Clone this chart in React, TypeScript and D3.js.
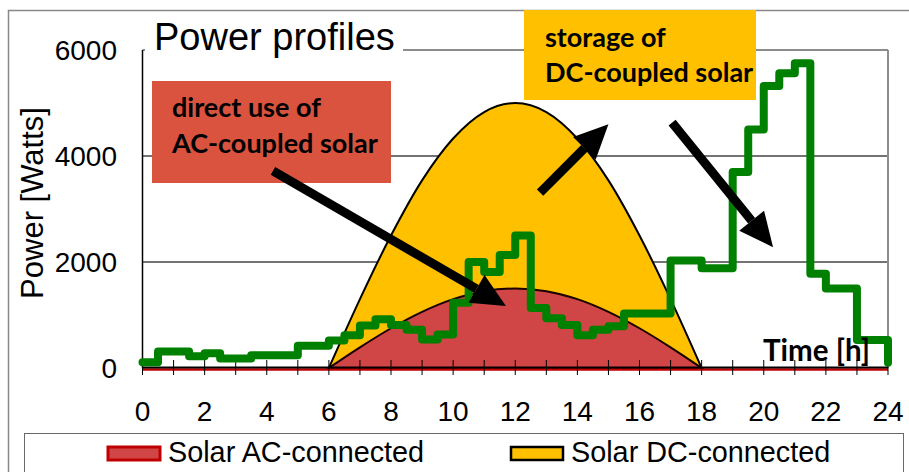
import * as d3 from "d3";

// time axis of the load profile: every half hour, value holds until the next step
const loadTimes = d3.range(0, 24.5, 0.5);
const loadWatts = [
  110, 310, 310, 220, 280, 180, 180, 240, 240, 240, 420, 420, 520, 620, 800, 920,
  810, 720, 540, 630, 1230, 2000, 1810, 2130, 2500, 1130, 940, 810, 620, 720, 790,
  1030, 1030, 1030, 2030, 2030, 1880, 1880, 3700, 4500, 5320, 5560, 5750, 1780,
  1500, 1500, 530, 530, 100,
];

// solar production, hourly readings between sunrise and sunset
const solarHours = [6, 7, 8, 9, 10, 11, 12, 13, 14, 15, 16, 17, 18];
const solarDC = [0, 1300, 2500, 3540, 4330, 4830, 5000, 4830, 4330, 3540, 2500, 1300, 0];
const solarAC = [0, 390, 750, 1060, 1300, 1450, 1500, 1450, 1300, 1060, 750, 390, 0];

const xTickLabels = [0, 2, 4, 6, 8, 10, 12, 14, 16, 18, 20, 22, 24];
const yTickLabels = [0, 2000, 4000, 6000];
const gridValues = [2000, 4000];

// arrows in data units: [t0, w0, t1, w1]
const arrows = [
  [4.2, 3720, 11.7, 1170],
  [12.8, 3310, 15.0, 4600],
  [17.05, 4630, 20.3, 2280],
];

const W = 909;
const H = 472;
const AXIS = "Liberation Sans, Arial, sans-serif";
const NOTE = "Lato, sans-serif";

function Arrow({ x1, y1, x2, y2 }: { x1: number; y1: number; x2: number; y2: number }) {
  const ang = Math.atan2(y2 - y1, x2 - x1);
  const headLen = 34;
  const headW = 16;
  const bx = x2 - headLen * Math.cos(ang);
  const by = y2 - headLen * Math.sin(ang);
  const px = -Math.sin(ang) * headW;
  const py = Math.cos(ang) * headW;
  return (
    <g>
      <line x1={x1} y1={y1} x2={bx} y2={by} stroke="#000" strokeWidth={9} />
      <polygon
        points={`${x2},${y2} ${bx + px},${by + py} ${bx - px},${by - py}`}
        fill="#000"
      />
    </g>
  );
}

export default function App() {
  const x = d3.scaleLinear().domain([0, 24]).range([142.5, 888]);
  const y = d3.scaleLinear().domain([0, 6000]).range([368, 50]);

  const area = d3
    .area<number>()
    .x((_, i) => x(solarHours[i]))
    .y0(y(0))
    .y1((d) => y(d))
    .curve(d3.curveMonotoneX);

  const load = d3
    .line<number>()
    .x((_, i) => x(loadTimes[i]))
    .y((d) => y(d))
    .curve(d3.curveStepAfter);

  const hours = d3.range(0, 25);

  return (
    <svg
      width={W}
      height={H}
      style={{ position: "absolute", left: 0, top: 0, background: "#fff" }}
    >
      <rect x={0} y={0} width={W} height={H} fill="#fff" />
      {/* chart frame */}
      <rect x={8.5} y={10.5} width={940} height={520} fill="none" stroke="#888" strokeWidth={1.5} />

      {/* grid */}
      {gridValues.map((v) => (
        <line key={v} x1={x(0)} x2={x(24)} y1={y(v)} y2={y(v)} stroke="#444" strokeWidth={1.3} />
      ))}
      <line x1={x(0)} x2={x(24)} y1={y(6000)} y2={y(6000)} stroke="#8c8c8c" strokeWidth={2} />
      <line x1={x(24)} x2={x(24)} y1={y(6000)} y2={y(0)} stroke="#8c8c8c" strokeWidth={2} />

      {/* solar areas */}
      <path d={area(solarDC) ?? ""} fill="#FFC000" stroke="#000" strokeWidth={2} />
      <path d={area(solarAC) ?? ""} fill="#D04545" stroke="#1a0000" strokeWidth={2} />
      <line x1={x(0)} x2={x(24)} y1={y(0) + 1.5} y2={y(0) + 1.5} stroke="#C00000" strokeWidth={2.5} />

      {/* axes */}
      <line x1={x(0)} x2={x(24)} y1={y(0) - 0.5} y2={y(0) - 0.5} stroke="#000" strokeWidth={2} />
      {hours.map((h) => (
        <line key={h} x1={x(h)} x2={x(h)} y1={y(0) - 8} y2={y(0) + 7} stroke="#000" strokeWidth={1} />
      ))}
      <line x1={x(0)} x2={x(0)} y1={y(6000)} y2={y(0)} stroke="#000" strokeWidth={1.5} />

      {/* load */}
      <path
        d={load(loadWatts) ?? ""}
        fill="none"
        stroke="#008000"
        strokeWidth={8}
        strokeLinejoin="round"
        strokeLinecap="round"
      />

      {/* annotations */}
      <rect x={152} y={81} width={239} height={102} fill="#D9533E" />
      <text fontFamily={NOTE} fontWeight={700} fontSize={27} fill="#000">
        <tspan x={172} y={117}>direct use of</tspan>
        <tspan x={172} y={153}>AC-coupled solar</tspan>
      </text>
      <rect x={524} y={10} width={232} height={90} fill="#FFC000" />
      <text fontFamily={NOTE} fontWeight={700} fontSize={27} fill="#000">
        <tspan x={545} y={47}>storage of</tspan>
        <tspan x={545} y={82}>DC-coupled solar</tspan>
      </text>
      {arrows.map(([t0, w0, t1, w1], i) => (
        <Arrow key={i} x1={x(t0)} y1={y(w0)} x2={x(t1)} y2={y(w1)} />
      ))}
      <text x={763} y={361} fontFamily={NOTE} fontWeight={700} fontSize={29.5} fill="#000">
        Time [h]
      </text>

      {/* title */}
      <rect x={145} y={16} width={258} height={44} fill="#fff" />
      <text x={154} y={50} fontFamily={AXIS} fontSize={38} fill="#000">
        Power profiles
      </text>

      {/* tick labels */}
      {xTickLabels.map((t) => (
        <text key={t} x={x(t)} y={421} textAnchor="middle" fontFamily={AXIS} fontSize={28} fill="#000">
          {t}
        </text>
      ))}
      {yTickLabels.map((v) => (
        <text key={v} x={117} y={y(v) + 10} textAnchor="end" fontFamily={AXIS} fontSize={28} fill="#000">
          {v}
        </text>
      ))}
      <text
        transform={`translate(43, ${y(3000) - 6}) rotate(-90)`}
        textAnchor="middle"
        fontFamily={AXIS}
        fontSize={31}
        fill="#000"
      >
        Power [Watts]
      </text>

      {/* legend */}
      <rect x={24.5} y={433.5} width={879} height={60} fill="#fff" stroke="#6a6a6a" strokeWidth={1} />
      <rect x={108} y={447} width={52} height={13} fill="#D04545" stroke="#C00000" strokeWidth={3} />
      <text x={168} y={462} fontFamily={AXIS} fontSize={28.8} fill="#000">
        Solar AC-connected
      </text>
      <rect x={511} y={447} width={52} height={13} fill="#FFC000" stroke="#000" strokeWidth={2.5} />
      <text x={571} y={462} fontFamily={AXIS} fontSize={28.8} fill="#000">
        Solar DC-connected
      </text>
    </svg>
  );
}
